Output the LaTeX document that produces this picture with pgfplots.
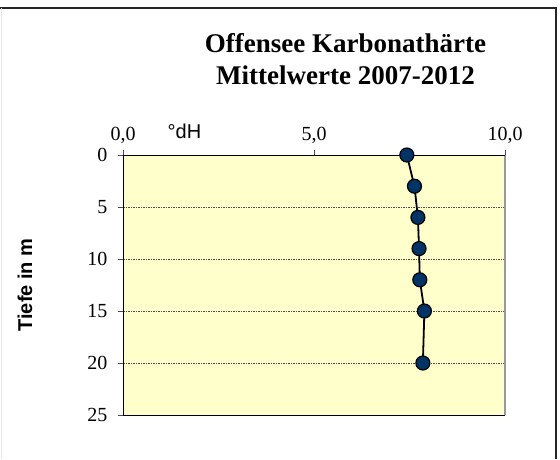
\documentclass[border=0pt]{standalone}
\usepackage{pgfplots}
\pgfplotsset{compat=1.18}
\usepackage{fontspec}
\setmainfont{Liberation Serif}
\newfontfamily\arial{Liberation Sans}
\definecolor{plotbg}{HTML}{FFFFCC}
\definecolor{marknavy}{HTML}{003366}
\begin{document}
\begin{tikzpicture}[x=1pt,y=1pt]
\useasboundingbox (0,0) rectangle (560,459);
\fill[white] (0,0) rectangle (560,459);
\draw[black!85, line width=1.5pt] (0,451) -- (556,451) -- (556,0);
\draw[black!10, line width=1pt] (1,451) -- (1,0);
\begin{axis}[
  at={(123pt,44pt)}, anchor=south west,
  scale only axis, width=382pt, height=260pt,
  xmin=0, xmax=10, ymin=0, ymax=25,
  y dir=reverse,
  axis x line*=top,
  axis y line*=left,
  xtick={0,5,10}, xticklabels={{0,0},{5,0},{10,0}},
  ytick={0,5,10,15,20,25},
  tick align=outside,
  major tick length=5pt,
  tick style={black!70, line width=0.6pt},
  axis background/.style={fill=plotbg},
  axis line style={black, line width=0.9pt},
  ymajorgrids,
  major grid style={black!70, dashed, line width=0.4pt, dash pattern=on 1.5pt off 1pt},
  ticklabel style={font=\fontsize{20}{22}\selectfont},
  /pgf/number format/assume math mode=true,
  xticklabel style={yshift=3pt},
  yticklabel style={xshift=-7pt},
  clip=false,
]
\addplot[black, line width=1.8pt, mark=*, mark size=7pt,
  mark options={fill=marknavy, draw=black, line width=1.2pt}]
  coordinates {(7.43,0) (7.63,3) (7.72,6) (7.75,9) (7.77,12) (7.89,15) (7.85,20)};
\draw[black!40, line width=1.5pt] (rel axis cs:1,1) -- (rel axis cs:1,0);
\draw[black, line width=0.9pt] (rel axis cs:0,0) -- (rel axis cs:1,0);
\draw[black, line width=0.9pt] (rel axis cs:0,1) -- (rel axis cs:1,1);
\end{axis}
\node[anchor=base, font=\arial\fontsize{20}{22}\selectfont] at (184.5,321) {°dH};
\node[rotate=90, font=\arial\bfseries\fontsize{20}{22}\selectfont] at (25,174) {Tiefe in m};
\node[anchor=base, font=\bfseries\fontsize{27}{30}\selectfont] at (345.5,406) {Offensee Karbonathärte};
\node[anchor=base, font=\bfseries\fontsize{27}{30}\selectfont] at (345.5,374) {Mittelwerte 2007-2012};
\end{tikzpicture}
\end{document}
